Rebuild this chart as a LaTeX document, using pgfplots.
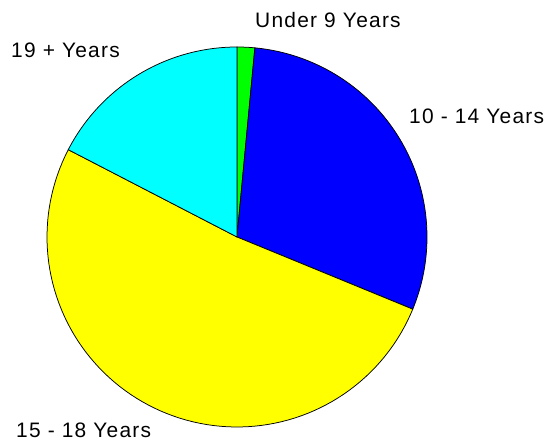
\documentclass[border=0pt]{standalone}
\usepackage{pgfplots}
\pgfplotsset{compat=1.18}
\usepackage{fontspec}
\setmainfont{Liberation Sans}
\definecolor{cGreen}{HTML}{00FF00}
\definecolor{cBlue}{HTML}{0000FF}
\definecolor{cYellow}{HTML}{FFFF00}
\definecolor{cCyan}{HTML}{00FFFF}
\newcommand{\cum}{0}
\newcommand{\pieslice}[2]{%
  \pgfmathsetmacro{\sa}{90-3.6*(\cum+#1)}%
  \pgfmathsetmacro{\sb}{90-3.6*\cum}%
  \edef\temp{\noexpand\addplot[draw=black, line width=0.75bp, fill=#2, domain=\sa:\sb, samples=90] ({190*cos(x)},{190*sin(x)}) -- (axis cs:0,0) -- cycle;}%
  \temp
  \pgfmathsetmacro{\newcum}{\cum+#1}%
  \xdef\cum{\newcum}%
}
\begin{document}
\begin{tikzpicture}
\begin{axis}[
  x=1bp, y=1bp, scale only axis,
  xmin=-237, xmax=311, ymin=-205, ymax=237,
  hide axis, clip=false,
]
\path (axis cs:-237,-205) rectangle (axis cs:311,237);
% slice values in percent, clockwise from 12 o'clock
\pieslice{1.5}{cGreen}
\pieslice{29.7}{cBlue}
\pieslice{51.4}{cYellow}
\pieslice{17.4}{cCyan}
\begin{scope}[every node/.style={anchor=base west, inner sep=0pt, font=\fontsize{21}{24}\selectfont\addfontfeature{LetterSpace=6}}]
\node at (axis cs:18,209) {Under 9 Years};
\node at (axis cs:172,113) {10 - 14 Years};
\node at (axis cs:-226,179) {19 + Years};
\node at (axis cs:-221,-201) {15 - 18 Years};
\end{scope}
\end{axis}
\end{tikzpicture}
\end{document}
